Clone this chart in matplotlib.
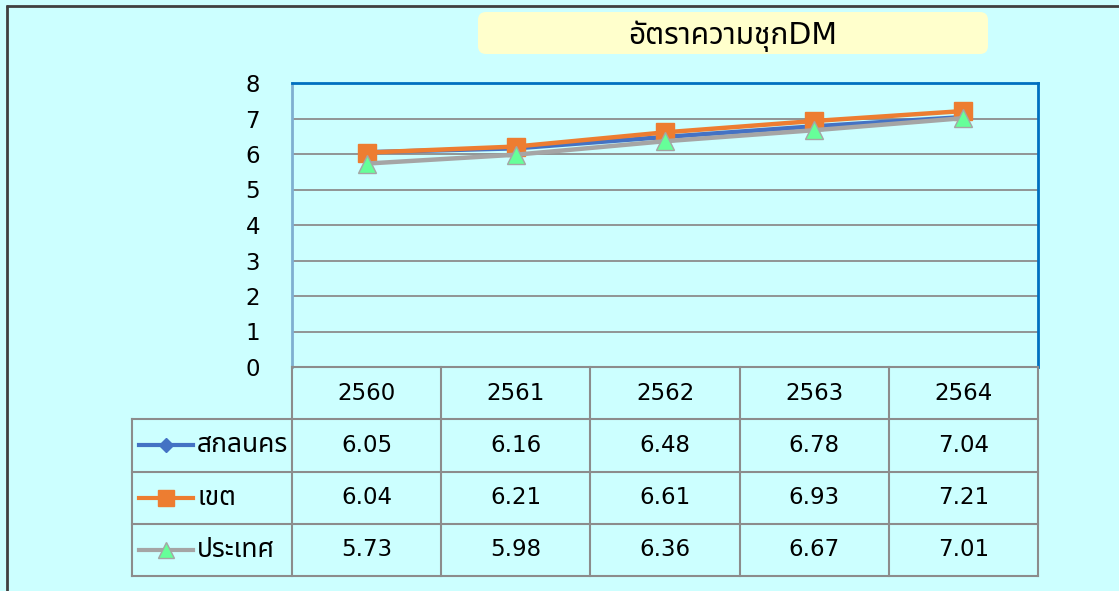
import matplotlib
matplotlib.use("Agg")
import matplotlib.pyplot as plt
from matplotlib import font_manager
from matplotlib.patches import FancyBboxPatch

# data
years = ["2560", "2561", "2562", "2563", "2564"]
series_names = ["สกลนคร", "เขต", "ประเทศ"]
sakon = [6.05, 6.16, 6.48, 6.78, 7.04]
khet = [6.04, 6.21, 6.61, 6.93, 7.21]
prathet = [5.73, 5.98, 6.36, 6.67, 7.01]
title = "อัตราความชุกDM"

# pick a looped Thai sans that is installed
installed = {f.name for f in font_manager.fontManager.ttflist}
thai = next((n for n in ["Noto Sans Thai", "Sarabun", "Loma", "Garuda", "Tahoma"]
             if n in installed), None)
plt.rcParams["font.family"] = ["DejaVu Sans"] + ([thai] if thai else [])

bg = "#CCFFFF"
W, H = 1119, 591
fig = plt.figure(figsize=(W / 100, H / 100), dpi=100, facecolor=bg)

L, R, T, B = 292, 1038, 83, 367
ax = fig.add_axes([L / W, 1 - B / H, (R - L) / W, (B - T) / H])
ax.set_facecolor(bg)
x = range(len(years))
ax.set_xlim(-0.5, len(years) - 0.5)
ax.set_ylim(0, 8)
ax.set_yticks(range(0, 9))
ax.set_xticks([])
ax.tick_params(axis="y", length=0, labelsize=16.5, pad=23)
for v in range(1, 8):
    ax.axhline(v, color="#8C8C8C", lw=1.3, zorder=1)
for s in ["top", "right"]:
    ax.spines[s].set_color("#0070C0")
    ax.spines[s].set_linewidth(2)
ax.spines["left"].set_color("#7FAFD0")
ax.spines["left"].set_linewidth(2)
ax.spines["bottom"].set_color("#8C8C8C")
ax.spines["bottom"].set_linewidth(1.5)

styles = [
    dict(color="#4472C4", marker="D", ms=8, mfc="#4472C4", mec="#4472C4"),
    dict(color="#ED7D31", marker="s", ms=13, mfc="#ED7D31", mec="#ED7D31"),
    dict(color="#A5A5A5", marker="^", ms=13, mfc="#66FF99", mec="#A5A5A5"),
]
for vals, st in zip([sakon, khet, prathet], styles):
    ax.plot(x, vals, lw=3.2, zorder=3, **st)

# data table under the plot
TB = 576
row_h = (TB - B) / 4
tx = fig.add_axes([0, 0, 1, 1], facecolor="none")
tx.set_xlim(0, W)
tx.set_ylim(H, 0)
tx.axis("off")
col_w = (R - L) / len(years)
lc = "#8C8C8C"
for i in range(len(years) + 1):
    xx = L + i * col_w
    tx.plot([xx, xx], [B, TB], color=lc, lw=1.5)
tx.plot([132, 132], [B + row_h, TB], color=lc, lw=1.5)
for j in range(1, 5):
    yy = B + j * row_h
    tx.plot([132, R], [yy, yy], color=lc, lw=1.5)
for i, yr in enumerate(years):
    tx.text(L + (i + 0.5) * col_w, B + 0.5 * row_h, yr, ha="center", va="center", fontsize=16.5)
for j, (name, vals, st) in enumerate(zip(series_names, [sakon, khet, prathet], styles)):
    yc = B + (j + 1.5) * row_h
    tx.plot([139, 193], [yc, yc], color=st["color"], lw=3)
    tx.plot([166], [yc], marker=st["marker"], ms=st["ms"] * 0.9, mfc=st["mfc"], mec=st["mec"])
    tx.text(197, yc, name, ha="left", va="center", fontsize=19)
    for i, v in enumerate(vals):
        tx.text(L + (i + 0.5) * col_w, yc, f"{v:.2f}", ha="center", va="center", fontsize=16.5)

# title box
box = FancyBboxPatch((478, 12), 510, 42, boxstyle="round,pad=0,rounding_size=8",
                     fc="#FFFFCC", ec="none")
tx.add_patch(box)
tx.text(733, 36, title, ha="center", va="center", fontsize=21.5)

# outer border (top and left)
tx.plot([6, W], [5.5, 5.5], color="#404040", lw=2, solid_capstyle="butt")
tx.plot([6.5, 6.5], [5, H], color="#404040", lw=2, solid_capstyle="butt")

fig.savefig("out.png", dpi=100, facecolor=bg)
